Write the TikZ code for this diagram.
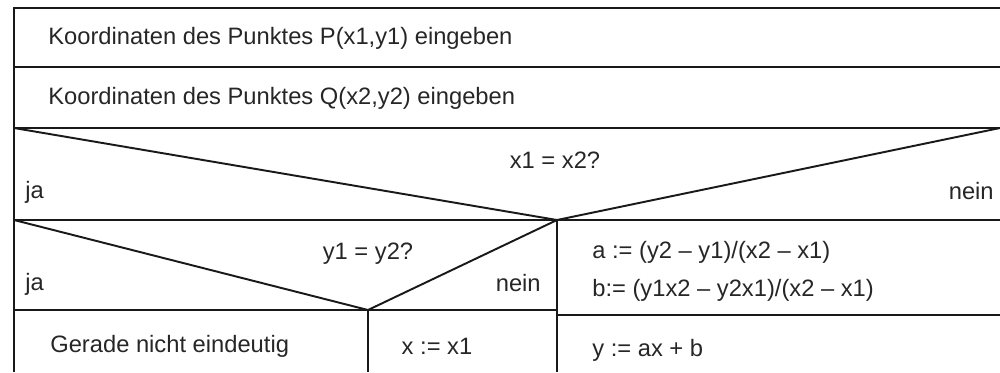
\documentclass[tikz,border=0pt]{standalone}
\usepackage{fontspec}
\setmainfont{Liberation Sans}
\usepackage{tikz}

\begin{document}
\begin{tikzpicture}[x=0.02cm, y=-0.02cm,
    every node/.style={font=\fontsize{13.5}{16}\selectfont, text=black!85, inner sep=0pt},
    rule/.style={line width=1.1pt, black!90},
    lefttxt/.style={anchor=west},
    righttxt/.style={anchor=east}]
    \useasboundingbox (0,0) rectangle (1000,372);

    % 1. Rahmen und die beiden Eingabezeilen
    \draw[rule] (14,372) -- (14,8) -- (1000,8);
    \draw[rule] (14,67) -- (1000,67);
    \draw[rule] (14,128) -- (1000,128);
    \node[lefttxt] (einP) at (48,38) {Koordinaten des Punktes P(x1,y1) eingeben};
    \node[lefttxt] (einQ) at (48,98) {Koordinaten des Punktes Q(x2,y2) eingeben};

    % 2. Verzweigung x1 = x2
    \draw[rule] (14,220) -- (1000,220);
    \draw[rule] (14,128) -- (557,220) -- (1000,128);
    \node (frageX) at (555,160) {x1 = x2?};
    \node[lefttxt] (jaX) at (25,192) {ja};
    \node[righttxt] (neinX) at (994,191) {nein};

    % 3. Verzweigung y1 = y2 (linker Zweig)
    \draw[rule] (557,220) -- (557,372);
    \draw[rule] (14,310) -- (557,310);
    \draw[rule] (14,220) -- (368,310) -- (557,220);
    \draw[rule] (368,310) -- (368,372);
    \node (frageY) at (368,254) {y1 = y2?};
    \node[lefttxt] (jaY) at (25,284) {ja};
    \node[righttxt] (neinY) at (541,283) {nein};
    \node[lefttxt] (gerade) at (50,346) {Gerade nicht eindeutig};
    \node (setzX) at (437,346) {x := x1};

    % 4. rechter Zweig: Steigung und Achsenabschnitt
    \draw[rule] (557,315) -- (1000,315);
    \node[lefttxt] (setzA) at (592,252) {a := (y2 -- y1)/(x2 -- x1)};
    \node[lefttxt] (setzB) at (592,290) {b:= (y1x2 -- y2x1)/(x2 -- x1)};
    \node[lefttxt] (setzY) at (592,350) {y := ax + b};
\end{tikzpicture}
\end{document}
